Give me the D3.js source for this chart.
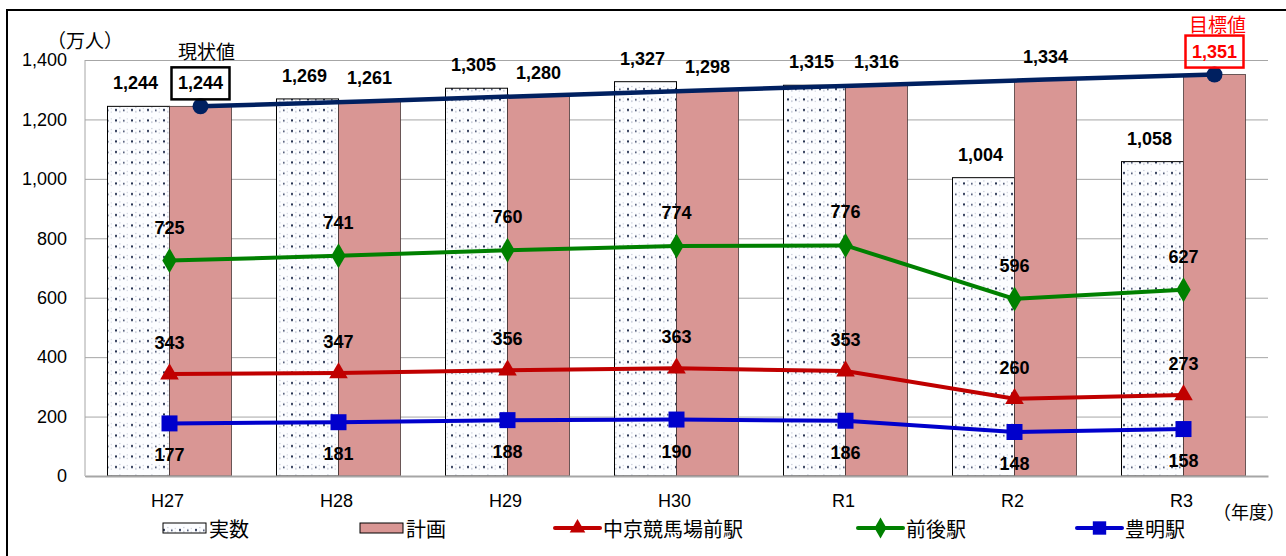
<!DOCTYPE html>
<html>
<head>
<meta charset="utf-8">
<script src="https://cdn.jsdelivr.net/npm/d3@7"></script>
<style>
  html, body { margin: 0; padding: 0; background: #fff; }
  svg { display: block; }
</style>
</head>
<body>
<script>
// ---- data ----
const categories = ["H27", "H28", "H29", "H30", "R1", "R2", "R3"];
const actual = [1244, 1269, 1305, 1327, 1315, 1004, 1058];
const plan = [1244, 1261, 1280, 1298, 1316, 1334, 1351];
const chukyo = [343, 347, 356, 363, 353, 260, 273];
const zengo = [725, 741, 760, 774, 776, 596, 627];
const toyoake = [177, 181, 188, 190, 186, 148, 158];
const yTicks = [0, 200, 400, 600, 800, 1000, 1200, 1400];
const legendNames = ["実数", "計画", "中京競馬場前駅", "前後駅", "豊明駅"];

const W = 1286, H = 556;
const plot = { left: 85, right: 1268, top: 60, bottom: 476 };
const NUM = "'Liberation Sans', Arial, sans-serif";
const JP = "'Noto Sans CJK JP', 'Noto Sans', sans-serif";

const svg = d3.select("body").append("svg").attr("width", W).attr("height", H);
const defs = svg.append("defs");

// dotted pattern for 実数
const pat = defs.append("pattern").attr("id", "dots").attr("patternUnits", "userSpaceOnUse")
  .attr("width", 16).attr("height", 10.5);
pat.append("rect").attr("width", 16).attr("height", 10.5).attr("fill", "#fcfdff");
pat.append("rect").attr("x", 3).attr("y", 4).attr("width", 2).attr("height", 2).attr("fill", "#1d2a4a");
pat.append("rect").attr("x", 11).attr("y", 4.5).attr("width", 1.6).attr("height", 1.6).attr("fill", "#3a4566");
pat.append("rect").attr("x", 7.5).attr("y", 2).attr("width", 0.8).attr("height", 1).attr("fill", "#9098b0");
pat.append("rect").attr("x", 7.5).attr("y", 6).attr("width", 0.8).attr("height", 1.4).attr("fill", "#8088a4");
pat.append("rect").attr("x", 14.8).attr("y", 3).attr("width", 0.8).attr("height", 1).attr("fill", "#a8aec2");
pat.append("rect").attr("x", 14.8).attr("y", 6.5).attr("width", 0.8).attr("height", 1).attr("fill", "#a8aec2");

// outer chart frame
svg.append("rect").attr("x", 7).attr("y", 10).attr("width", 1400).attr("height", 700)
  .attr("fill", "none").attr("stroke", "#000").attr("stroke-width", 2);

// scales
const x0 = d3.scaleBand().domain(categories).range([plot.left, plot.right]).padding(0);
const groupW = 124;
const x1 = d3.scaleBand().domain(["actual", "plan"]).range([0, groupW]).padding(0);
const off = (x0.bandwidth() - groupW) / 2;
const y = d3.scaleLinear().domain([0, 1400]).range([plot.bottom, plot.top]);
const cx = c => x0(c) + x0.bandwidth() / 2;
const planCx = c => x0(c) + off + x1("plan") + x1.bandwidth() / 2;
const actCx = c => x0(c) + off + x1("actual") + x1.bandwidth() / 2;

// y axis + grid
const yAxis = svg.append("g").attr("transform", `translate(${plot.left},0)`)
  .call(d3.axisLeft(y).tickValues(yTicks).tickFormat(d3.format(",")).tickSize(-(plot.right - plot.left)).tickPadding(18));
yAxis.select(".domain").remove();
yAxis.selectAll(".tick line").attr("stroke", "#a6a6a6").attr("stroke-width", 1);
yAxis.selectAll(".tick text").attr("font-family", NUM).attr("font-size", 18).attr("fill", "#000");
svg.append("line").attr("x1", plot.left).attr("x2", plot.left).attr("y1", plot.top).attr("y2", plot.bottom)
  .attr("stroke", "#a6a6a6").attr("stroke-width", 1);

// bars
svg.append("g").selectAll("rect").data(categories).join("rect")
  .attr("x", (c) => x0(c) + off + x1("actual"))
  .attr("width", x1.bandwidth())
  .attr("y", (c, i) => y(actual[i]))
  .attr("height", (c, i) => y(0) - y(actual[i]))
  .attr("fill", "url(#dots)").attr("stroke", "#000").attr("stroke-width", 1);
svg.append("g").selectAll("rect").data(categories).join("rect")
  .attr("x", (c) => x0(c) + off + x1("plan"))
  .attr("width", x1.bandwidth())
  .attr("y", (c, i) => y(plan[i]))
  .attr("height", (c, i) => y(0) - y(plan[i]))
  .attr("fill", "#d99694").attr("stroke", "#4a3a3a").attr("stroke-width", 0.8);

// x axis
const xAxis = svg.append("g").attr("transform", `translate(0,${plot.bottom})`)
  .call(d3.axisBottom(x0).tickSize(0).tickPadding(18));
xAxis.select(".domain").attr("stroke", "#a6a6a6").attr("stroke-width", 2);
xAxis.selectAll(".tick text").attr("font-family", NUM).attr("font-size", 18).attr("fill", "#000")
  .attr("dx", -2);

// plan line
const planLine = d3.line().x((d, i) => planCx(categories[i])).y(d => y(d));
svg.append("path").datum(plan).attr("d", planLine).attr("fill", "none")
  .attr("stroke", "#002060").attr("stroke-width", 4.5);
[0, plan.length - 1].forEach(i => {
  svg.append("circle").attr("cx", planCx(categories[i])).attr("cy", y(plan[i])).attr("r", 8)
    .attr("fill", "#002060");
});

// station lines
const series = [
  { name: legendNames[2], data: chukyo, color: "#c00000", marker: d3.symbolTriangle, size: 150, labelDy: -31 },
  { name: legendNames[3], data: zengo, color: "#008000", marker: d3.symbolDiamond, size: 180, labelDy: -33 },
  { name: legendNames[4], data: toyoake, color: "#0000cc", marker: d3.symbolSquare, size: 256, labelDy: 32 },
];
const line = d3.line().x((d, i) => cx(categories[i])).y(d => y(d));
series.forEach(s => {
  const g = svg.append("g");
  g.append("path").datum(s.data).attr("d", line).attr("fill", "none")
    .attr("stroke", s.color).attr("stroke-width", 4);
  g.selectAll("path.m").data(s.data).join("path").attr("class", "m")
    .attr("transform", (d, i) => `translate(${cx(categories[i])},${y(d)})`)
    .attr("d", d3.symbol().type(s.marker).size(s.size)).attr("fill", s.color);
  g.selectAll("text").data(s.data).join("text")
    .attr("x", (d, i) => cx(categories[i]))
    .attr("y", d => y(d) + s.labelDy)
    .attr("text-anchor", "middle").attr("dominant-baseline", "central")
    .attr("font-family", NUM).attr("font-weight", "bold").attr("font-size", 18)
    .text(d => d3.format(",")(d));
});

// bar labels
svg.append("g").selectAll("text").data(categories).join("text")
  .attr("x", c => actCx(c) - 3).attr("y", (c, i) => y(actual[i]) - 23)
  .attr("text-anchor", "middle").attr("dominant-baseline", "central")
  .attr("font-family", NUM).attr("font-weight", "bold").attr("font-size", 18)
  .text((c, i) => d3.format(",")(actual[i]));
svg.append("g").selectAll("text").data(categories).join("text")
  .attr("x", c => planCx(c)).attr("y", (c, i) => y(plan[i]) - 23)
  .attr("text-anchor", "middle").attr("dominant-baseline", "central")
  .attr("font-family", NUM).attr("font-weight", "bold").attr("font-size", 18)
  .attr("fill", (c, i) => i === plan.length - 1 ? "#ff0000" : "#000")
  .text((c, i) => d3.format(",")(plan[i]));

// annotation boxes
const first = 0, last = plan.length - 1;
svg.append("rect").attr("x", planCx(categories[first]) - 29).attr("y", y(plan[first]) - 39)
  .attr("width", 58).attr("height", 32).attr("fill", "none").attr("stroke", "#000").attr("stroke-width", 2.5);
svg.append("text").attr("x", planCx(categories[first]) + 6).attr("y", y(plan[first]) - 56)
  .attr("text-anchor", "middle").attr("dominant-baseline", "central")
  .attr("font-family", JP).attr("font-size", 19).text("現状値");
svg.append("rect").attr("x", planCx(categories[last]) - 29).attr("y", y(plan[last]) - 39)
  .attr("width", 58).attr("height", 32).attr("fill", "none").attr("stroke", "#ff0000").attr("stroke-width", 2.5);
svg.append("text").attr("x", planCx(categories[last]) + 3).attr("y", y(plan[last]) - 51)
  .attr("text-anchor", "middle").attr("dominant-baseline", "central")
  .attr("font-family", JP).attr("font-size", 19).attr("fill", "#ff0000").text("目標値");

// unit labels
svg.append("text").attr("x", 85).attr("y", 39).attr("text-anchor", "middle").attr("dominant-baseline", "central")
  .attr("font-family", JP).attr("font-size", 19).text("（万人）");
svg.append("text").attr("x", 1213).attr("y", 511).attr("dominant-baseline", "central")
  .attr("font-family", JP).attr("font-size", 18).text("（年度）");

// legend
const ly = 528;
const leg = svg.append("g");
leg.append("rect").attr("x", 163).attr("y", ly - 5).attr("width", 43).attr("height", 10)
  .attr("fill", "url(#dots)").attr("stroke", "#000").attr("stroke-width", 1);
leg.append("text").attr("x", 209).attr("y", ly).attr("dominant-baseline", "central")
  .attr("font-family", JP).attr("font-size", 20).text(legendNames[0]);
leg.append("rect").attr("x", 360).attr("y", ly - 5).attr("width", 43).attr("height", 10)
  .attr("fill", "#d99694").attr("stroke", "#000").attr("stroke-width", 1);
leg.append("text").attr("x", 406).attr("y", ly).attr("dominant-baseline", "central")
  .attr("font-family", JP).attr("font-size", 20).text(legendNames[1]);
const legX = [555, 858, 1077];
series.forEach((s, i) => {
  const lx = legX[i];
  leg.append("line").attr("x1", lx).attr("x2", lx + 45).attr("y1", ly).attr("y2", ly)
    .attr("stroke", s.color).attr("stroke-width", 4).attr("stroke-linecap", "round");
  leg.append("path").attr("transform", `translate(${lx + 22.5},${ly})`)
    .attr("d", d3.symbol().type(s.marker).size(s.size * 0.7)).attr("fill", s.color);
  leg.append("text").attr("x", lx + 48).attr("y", ly).attr("dominant-baseline", "central")
    .attr("font-family", JP).attr("font-size", 20).text(s.name);
});
</script>
</body>
</html>
